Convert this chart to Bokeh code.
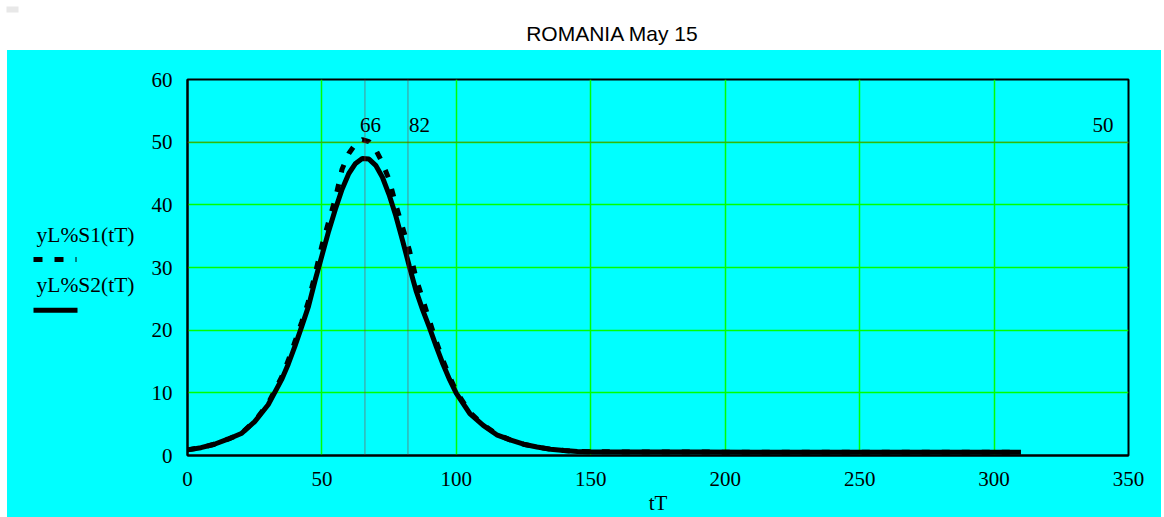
from bokeh.plotting import figure
from bokeh.layouts import column, row, Spacer
from bokeh.models import Range1d, FixedTicker, ColumnDataSource, Span
from bokeh.core.properties import value
from bokeh.embed import file_html
from bokeh.resources import INLINE

# ---------------- data ----------------
title_text = "ROMANIA May 15"
x_label = "tT"
series_names = ["yL%S1(tT)", "yL%S2(tT)"]

tT = [0, 5, 10, 15, 20, 25, 30, 35, 37.5, 40, 42.5, 45, 47.5, 50, 52.5, 55, 57.5,
      60, 62.5, 65, 67.5, 70, 72.5, 75, 77.5, 80, 82.5, 85, 87.5, 90, 92.5,
      95, 97.5, 100, 105, 110, 115, 120, 125, 130, 135, 140, 145, 150,
      170, 190, 210, 230, 250, 270, 290, 310]
S1 = [0.9, 1.25, 1.8, 2.6, 3.5, 5.5, 8.3, 12.5, 15.2, 18.2, 21.3, 24.6, 29.0, 33.5,
      37.3, 41.0, 45.7, 48.2, 49.7, 50.4, 50.1, 48.8, 46.7, 44.0, 40.0, 36.4, 32.8,
      28.3, 24.9, 21.5, 18.2, 15.2, 12.6, 10.2, 6.9, 4.9, 3.4, 2.5, 1.8, 1.35, 1.0,
      0.8, 0.65, 0.6, 0.55, 0.55, 0.5, 0.5, 0.5, 0.5, 0.5, 0.5]
S2 = [0.9, 1.25, 1.8, 2.6, 3.5, 5.4, 8.1, 12.1, 14.6, 17.5, 20.6, 23.8, 28.0, 31.9,
      35.8, 39.3, 42.5, 45.0, 46.6, 47.4, 47.3, 46.3, 44.4, 41.6, 38.2, 34.3, 30.2,
      26.3, 23.2, 20.4, 17.4, 14.6, 12.1, 9.9, 6.7, 4.8, 3.3, 2.5, 1.8, 1.35, 1.0,
      0.8, 0.65, 0.6, 0.55, 0.55, 0.5, 0.5, 0.5, 0.5, 0.5, 0.5]

x_ticks = [0, 50, 100, 150, 200, 250, 300, 350]
y_ticks = [0, 10, 20, 30, 40, 50, 60]
marker_x = [66, 82]
marker_y = [50]

CYAN = "#00FFFF"
GREEN = "#00FF00"
MARK = "#A02020"
SERIF = "Liberation Serif"
SANS = "Liberation Sans"

BT, BB = 29, 60      # top / bottom borders of the plot panels
H = 467

# ---------------- title strip ----------------
tf = figure(width=1164, height=50, x_range=Range1d(0, 1164), y_range=Range1d(50, 0),
            toolbar_location=None, output_backend="svg",
            min_border=0, outline_line_color=None, border_fill_color="white",
            background_fill_color="white")
tf.axis.visible = False
tf.grid.visible = False
tf.quad(left=[6], right=[18], top=[6], bottom=[12], fill_color="#E8E8E8", line_color=None)
tf.text(x=[612], y=[33], text=[title_text], text_align="center", text_baseline="middle",
        text_font=value(SANS), text_font_size="21px", text_color="black")

# ---------------- legend panel ----------------
lf = figure(width=140, height=H, x_range=Range1d(0, 140), y_range=Range1d(H - BB, BT),
            toolbar_location=None, output_backend="svg",
            min_border_left=0, min_border_right=0, min_border_top=BT,
            min_border_bottom=BB, outline_line_color=None,
            border_fill_color=None, background_fill_color=None)
lf.axis.visible = False
lf.grid.visible = False
lf.text(x=[29, 29], y=[185, 236], text=series_names, text_align="left",
        text_baseline="middle", text_font=value(SERIF), text_font_size="21.5px",
        text_color="black")
lf.line(x=[26, 69], y=[210, 210], line_color="black", line_width=5,
        line_dash="9 12", line_cap="butt")
lf.line(x=[26, 70], y=[261, 261], line_color="black", line_width=5, line_cap="butt")

# ---------------- main plot ----------------
src = ColumnDataSource(dict(tT=tT, S1=S1, S2=S2))
p = figure(width=1014, height=H, x_range=Range1d(0, 350), y_range=Range1d(0, 60),
           toolbar_location=None, output_backend="svg",
           min_border_left=40, min_border_right=33, min_border_top=BT,
           min_border_bottom=BB,
           border_fill_color=None, background_fill_color=CYAN,
           outline_line_color="black", outline_line_width=2)

p.xaxis.ticker = FixedTicker(ticks=x_ticks)
p.yaxis.ticker = FixedTicker(ticks=y_ticks)
for ax in (p.xaxis, p.yaxis):
    ax.major_tick_line_color = None
    ax.minor_tick_line_color = None
    ax.axis_line_color = "black"
    ax.axis_line_width = 2
    ax.major_label_text_font = SERIF
    ax.major_label_text_font_size = "21px"
    ax.major_label_text_color = "black"
p.xaxis.major_label_standoff = 10
p.yaxis.major_label_standoff = 9
p.xaxis.axis_label = x_label
p.xaxis.axis_label_text_font = SERIF
p.xaxis.axis_label_text_font_size = "21px"
p.xaxis.axis_label_text_font_style = "normal"
p.xaxis.axis_label_text_color = "black"
p.xaxis.axis_label_standoff = 2

p.grid.grid_line_color = GREEN
p.grid.grid_line_width = 1.5
p.grid.grid_line_alpha = 1.0

for mx in marker_x:
    p.add_layout(Span(location=mx, dimension="height", line_color=MARK,
                      line_width=1, line_dash="1 1"))
for my in marker_y:
    p.add_layout(Span(location=my, dimension="width", line_color=MARK,
                      line_width=1, line_dash="1 1"))

p.text(x=marker_x, y=[marker_y[0]] * len(marker_x), text=[str(v) for v in marker_x],
       x_offset=[-5, 1], y_offset=-10, text_align="left", text_baseline="bottom",
       text_font=value(SERIF), text_font_size="21px", text_color="black")
p.text(x=[350], y=marker_y, text=[str(v) for v in marker_y], x_offset=-15, y_offset=-10,
       text_align="right", text_baseline="bottom",
       text_font=value(SERIF), text_font_size="21px", text_color="black")

p.line("tT", "S2", source=src, line_color="black", line_width=5)
p.line("tT", "S1", source=src, line_color="black", line_width=5, line_dash="8 12",
       line_cap="butt")

panel = row(lf, p, styles={"background-color": CYAN})
layout = column(tf, row(Spacer(width=7, height=H), panel))
open("out.html", "w").write(file_html(layout, INLINE))
